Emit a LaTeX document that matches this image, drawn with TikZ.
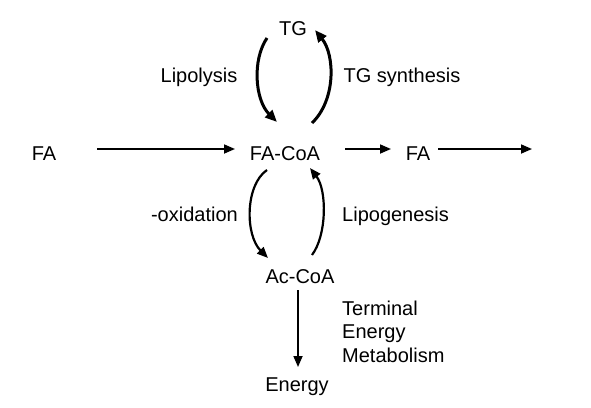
\documentclass[tikz,border=0pt]{standalone}
\usepackage{fontspec}
\setmainfont{Liberation Sans}
\usetikzlibrary{arrows.meta,calc}
\begin{document}
\begin{tikzpicture}[x=1pt,y=-1pt,
 lbl/.style={anchor=base,inner sep=0pt,font=\fontsize{20}{23.5}\selectfont},
 flow/.style={line width=1.7pt,-{Triangle[length=11pt,width=9pt]}},
 bendthick/.style={line width=3pt,-{Triangle[length=12pt,width=10pt]}},
 bendthin/.style={line width=2.2pt,-{Triangle[length=11pt,width=9pt]}}]
\useasboundingbox[fill=white] (0,0) rectangle (591,407);
% nodes
\node[lbl] (tg) at (293,35) {TG};
\node[lbl] (fa1) at (44,160) {FA};
\node[lbl] (facoa) at (285,160) {FA-CoA};
\node[lbl] (fa2) at (418,160) {FA};
\node[lbl] (ac) at (300,283) {Ac-CoA};
\node[lbl] (energy) at (297,391) {Energy};
\coordinate (out) at (532,149);
% labels
\node[lbl] (lipo) at (199,82) {Lipolysis};
\node[lbl] (tgs) at (402,82) {TG synthesis};
\node[lbl,anchor=base east] (box) at (238,221) {-oxidation};
\node[lbl,anchor=base west] (lipog) at (342,221) {Lipogenesis};
\node[lbl,anchor=north west,align=left] (tem) at (342,300.5) {Terminal\\Energy\\Metabolism};
% straight arrows
\draw[flow] ($(fa1.base)+(53,-11)$) -- ($(facoa.base)+(-50,-11)$);
\draw[flow] ($(facoa.base)+(60,-11)$) -- ($(fa2.base)+(-27,-11)$);
\draw[flow] ($(fa2.base)+(20,-11)$) -- (out);
\draw[flow] ($(ac.base)+(-2,7)$) -- ($(energy.base)+(1,-24)$);
% TG cycle
\draw[bendthick] ($(tg.base)+(-26,3)$) .. controls ($(tg.base)+(-41,25)$) and ($(facoa.base)+(-30,-60)$) .. ($(facoa.base)+(-8,-38)$);
\draw[bendthick] ($(facoa.base)+(27,-37)$) .. controls ($(facoa.base)+(51,-60)$) and ($(tg.base)+(42,20)$) .. ($(tg.base)+(22,-5)$);
% Ac-CoA cycle
\draw[bendthin] ($(facoa.base)+(-18,10)$) .. controls ($(facoa.base)+(-40,25)$) and ($(ac.base)+(-55,-48)$) .. ($(ac.base)+(-32,-25)$);
\draw[bendthin] ($(ac.base)+(12,-28)$) .. controls ($(ac.base)+(27,-48)$) and ($(facoa.base)+(42,30)$) .. ($(facoa.base)+(25,8)$);
\end{tikzpicture}
\end{document}
